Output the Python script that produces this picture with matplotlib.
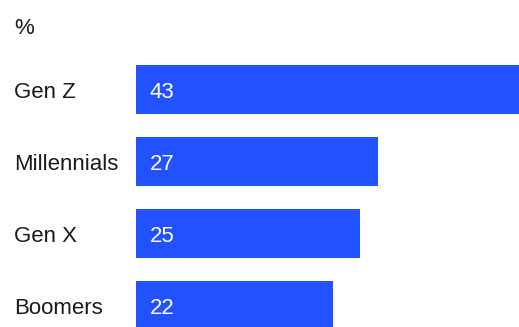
import matplotlib.pyplot as plt
from matplotlib.transforms import blended_transform_factory

generations = ["Gen Z", "Millennials", "Gen X", "Boomers"]
shares = [43, 27, 25, 22]

plt.rcParams['font.family'] = ['Liberation Sans', 'DejaVu Sans']

W, H = 519, 327
fig = plt.figure(figsize=(W / 100, H / 100), dpi=100)
ax = fig.add_axes([136 / W, 0, 1 - 136 / W, 1])

pos = list(range(len(generations)))
ax.barh(pos, shares, height=0.68, color="#2251FF")
ax.set_xlim(0, 383 / 8.95)
ax.set_ylim(3 + 21.5 / 72, -89.5 / 72)
ax.axis("off")

# labels sit in figure x, data y
lab = blended_transform_factory(fig.transFigure, ax.transData)
for p, name, v in zip(pos, generations, shares):
    ax.text(14 / 8.95, p, str(v), color="white", fontsize=16,
            va="center_baseline", ha="left")
    ax.text(14 / W, p, name, transform=lab, fontsize=16,
            va="center_baseline", ha="left", color="#1a1a1a")

fig.text(14 / W, 1 - 26 / H, "%", fontsize=16, va="center_baseline",
         ha="left", color="#1a1a1a")

fig.savefig("out.png", dpi=100)
